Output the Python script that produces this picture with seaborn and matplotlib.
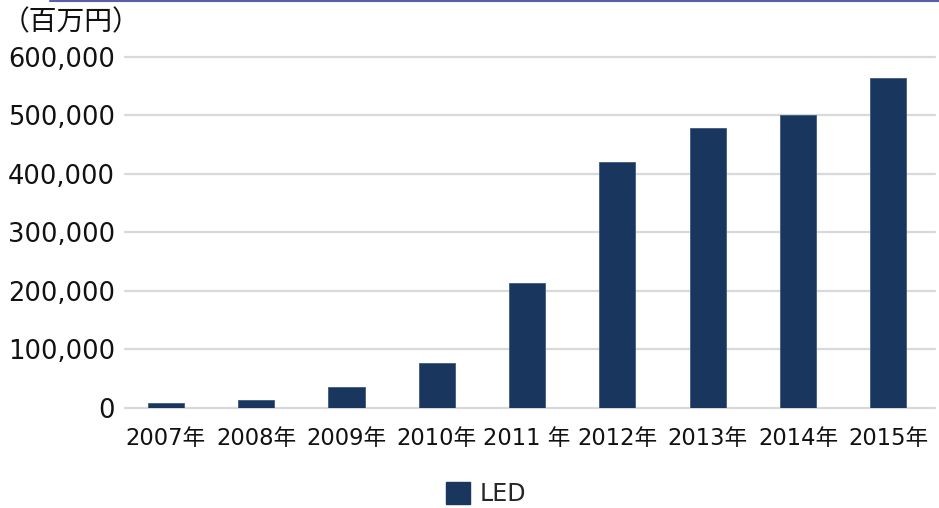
import matplotlib
matplotlib.use("Agg")
import matplotlib.pyplot as plt
import seaborn as sns
import pandas as pd
from matplotlib.lines import Line2D
from matplotlib.patches import Patch

years = ["2007年", "2008年", "2009年", "2010年", "2011 年", "2012年", "2013年", "2014年", "2015年"]
led = [8000, 13000, 35000, 77000, 214000, 420000, 479000, 500000, 564000]
yticks = [0, 100000, 200000, 300000, 400000, 500000, 600000]
ytick_labels = ["0", "100,000", "200,000", "300,000", "400,000", "500,000", "600,000"]
series_name = "LED"
unit_label = "（百万円）"

sns.set_theme(style="white")
plt.rcParams["font.family"] = ["DejaVu Sans", "Noto Sans CJK JP"]

df = pd.DataFrame({"year": years, "value": led})

fig = plt.figure(figsize=(9.39, 5.08), dpi=100)
ax = fig.add_axes([0.133, 0.197, 0.863, 0.691])

bar_color = "#19365e"
sns.barplot(data=df, x="year", y="value", color=bar_color, width=0.4,
            edgecolor="#3f5a80", linewidth=0.6, ax=ax, saturation=1)

ax.set_ylim(0, 600000)
ax.set_xlim(-0.454, 8.52)
ax.set_yticks(yticks)
ax.set_yticklabels(ytick_labels, fontsize=18.5, color="#111111")
ax.tick_params(axis="y", length=0, pad=7)
ax.tick_params(axis="x", length=0, pad=14, labelsize=16.3, labelcolor="#111111")
ax.set_xlabel("")
ax.set_ylabel("")
for s in ax.spines.values():
    s.set_visible(False)

for v in yticks:
    ax.axhline(v, color="#d9d9d9", linewidth=1.6, zorder=0, clip_on=False)

fig.text(2 / 939, 1 - 22 / 508, unit_label, fontsize=20, va="center", ha="left",
         color="#111111", family=["Noto Sans CJK JP", "DejaVu Sans"])

fig.legend(handles=[Patch(facecolor=bar_color, edgecolor=bar_color)], labels=[series_name],
           loc="center", bbox_to_anchor=(486 / 939, 1 - 494 / 508), frameon=False,
           fontsize=17, handlelength=1.05, handleheight=1.05, handletextpad=0.4)

fig.add_artist(Line2D([50 / 939, 1.0], [1 - 1 / 508, 1 - 1 / 508], transform=fig.transFigure,
                      color="#5a5fa8", linewidth=1.5))

fig.savefig("out.png", dpi=100)
